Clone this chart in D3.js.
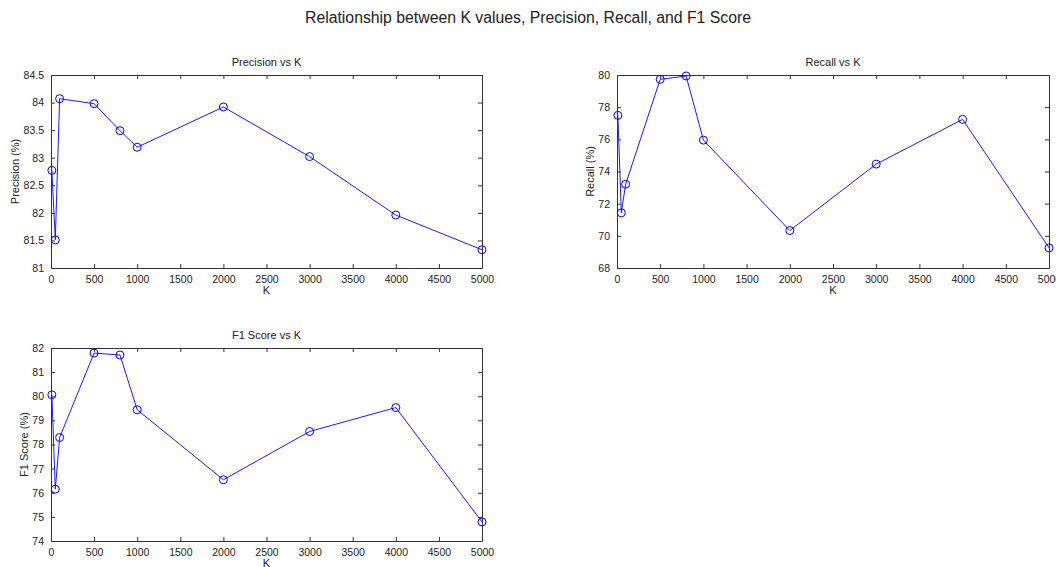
<!DOCTYPE html>
<html><head><meta charset="utf-8">
<script src="https://cdn.jsdelivr.net/npm/d3@7"></script>
<style>body{margin:0;background:#fff}svg{display:block}text{font-family:"Liberation Sans",Arial,sans-serif;fill:#222}</style>
</head><body><svg id="c" width="1056" height="567"></svg>
<script>
const kValues = [10, 50, 100, 500, 800, 1000, 2000, 3000, 4000, 5000];
const precision = [82.77, 81.51, 84.07, 83.98, 83.49, 83.19, 83.92, 83.02, 81.96, 81.33];
const recall = [77.49, 71.43, 73.21, 79.73, 79.94, 75.95, 70.33, 74.46, 77.24, 69.25];
const f1 = [80.06, 76.15, 78.29, 81.79, 81.71, 79.44, 76.54, 78.54, 79.53, 74.79];
const xTicks = [0,500,1000,1500,2000,2500,3000,3500,4000,4500,5000];
const precTicks = [81,81.5,82,82.5,83,83.5,84,84.5];
const recTicks = [68,70,72,74,76,78,80];
const f1Ticks = [74,75,76,77,78,79,80,81,82];

const svg = d3.select("#c");
svg.append("text").attr("x",528).attr("y",23).attr("text-anchor","middle").attr("font-size",15.8).attr("fill","#111").text("Relationship between K values, Precision, Recall, and F1 Score");

function panel(box, vals, yDom, yTicks, title, ylabel, ylOff){
  const x = d3.scaleLinear().domain([0,5000]).range([box.l, box.r]);
  const y = d3.scaleLinear().domain(yDom).range([box.b, box.t]);
  const g = svg.append("g");
  const axCol = "#333";
  const tl = 4;
  const fmt = d => String(d);
  const bx = g.append("g").attr("transform",`translate(0,${box.b})`).call(d3.axisBottom(x).tickValues(xTicks).tickFormat(fmt).tickSizeInner(-tl).tickSizeOuter(0).tickPadding(8));
  const tx = g.append("g").attr("transform",`translate(0,${box.t})`).call(d3.axisTop(x).tickValues(xTicks).tickFormat("").tickSizeInner(-tl).tickSizeOuter(0));
  const ly = g.append("g").attr("transform",`translate(${box.l},0)`).call(d3.axisLeft(y).tickValues(yTicks).tickFormat(fmt).tickSizeInner(-tl).tickSizeOuter(0).tickPadding(7));
  const ry = g.append("g").attr("transform",`translate(${box.r},0)`).call(d3.axisRight(y).tickValues(yTicks).tickFormat("").tickSizeInner(-tl).tickSizeOuter(0));
  [bx,tx,ly,ry].forEach(a=>{a.selectAll("path,line").attr("stroke",axCol);a.selectAll("text").attr("font-size",10.5).attr("fill","#222").attr("font-family","Liberation Sans, Arial, sans-serif");});
  g.append("text").attr("x",(box.l+box.r)/2).attr("y",box.t-9).attr("text-anchor","middle").attr("font-size",11).text(title);
  g.append("text").attr("x",(box.l+box.r)/2).attr("y",box.b+26).attr("text-anchor","middle").attr("font-size",11).text("K");
  g.append("text").attr("transform",`translate(${box.l-ylOff},${(box.t+box.b)/2}) rotate(-90)`).attr("text-anchor","middle").attr("font-size",11).text(ylabel);
  const line = d3.line().x((d,i)=>x(kValues[i])).y(d=>y(d));
  g.append("path").datum(vals).attr("d",line).attr("fill","none").attr("stroke","#1a1aff").attr("stroke-width",1);
  g.selectAll("circle.m").data(vals).enter().append("circle").attr("class","m")
    .attr("cx",(d,i)=>x(kValues[i])).attr("cy",d=>y(d)).attr("r",4).attr("fill","none").attr("stroke","#0000ff").attr("stroke-width",1);
}
panel({l:51,r:482,t:75,b:268}, precision, [81,84.5], precTicks, "Precision vs K", "Precision (%)", 32);
panel({l:617,r:1049,t:75,b:268}, recall, [68,80], recTicks, "Recall vs K", "Recall (%)", 23);
panel({l:51,r:482,t:348,b:541}, f1, [74,82], f1Ticks, "F1 Score vs K", "F1 Score (%)", 23);
</script></body></html>
